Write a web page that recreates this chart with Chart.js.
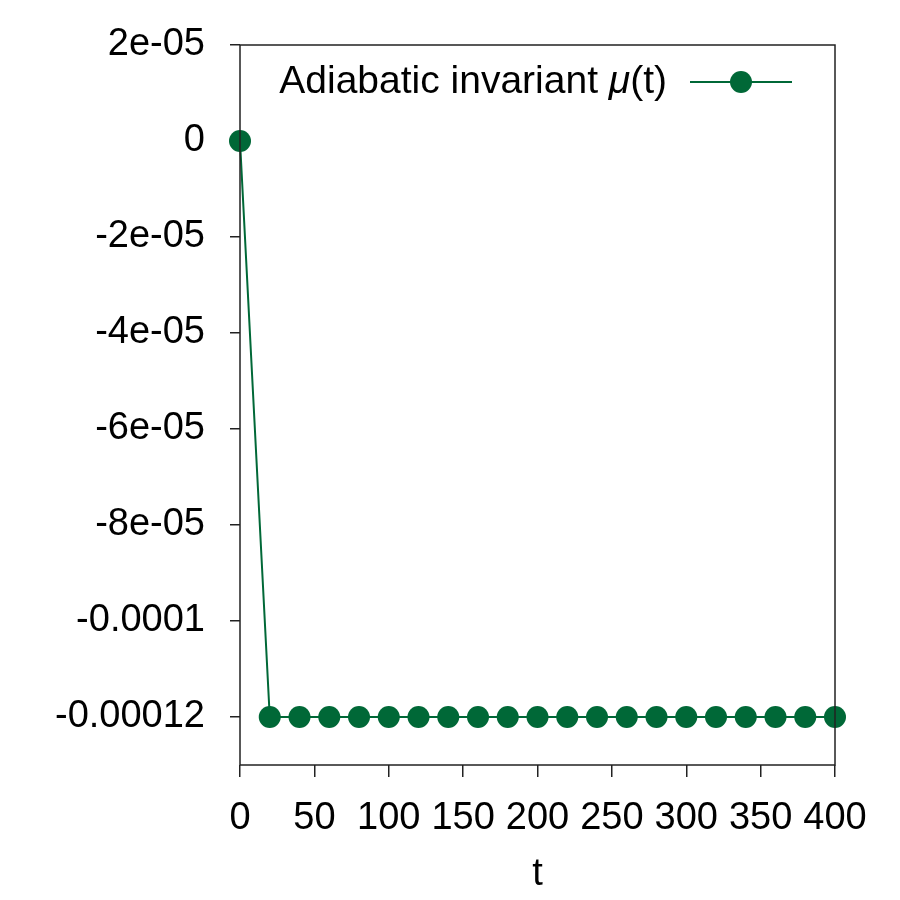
<!DOCTYPE html>
<html>
<head>
<meta charset="utf-8">
<script src="https://cdn.jsdelivr.net/npm/chart.js@4.4.1/dist/chart.umd.min.js"></script>
<style>
  html, body { margin: 0; padding: 0; background: #fff; }
  #wrap { width: 900px; height: 900px; }
</style>
</head>
<body>
<div id="wrap"><canvas id="chart" width="900" height="900"></canvas></div>
<script>
// data
const tValues = [0, 20, 40, 60, 80, 100, 120, 140, 160, 180, 200, 220, 240, 260, 280, 300, 320, 340, 360, 380, 400];
const muValues = [0, -0.00012, -0.00012, -0.00012, -0.00012, -0.00012, -0.00012, -0.00012, -0.00012, -0.00012, -0.00012,
                  -0.00012, -0.00012, -0.00012, -0.00012, -0.00012, -0.00012, -0.00012, -0.00012, -0.00012, -0.00012];

const xTickValues = [0, 50, 100, 150, 200, 250, 300, 350, 400];
const yTickValues = [-0.00012, -0.0001, -8e-05, -6e-05, -4e-05, -2e-05, 0, 2e-05];
const yTickLabels = ["-0.00012", "-0.0001", "-8e-05", "-6e-05", "-4e-05", "-2e-05", "0", "2e-05"];

const green = "#006837";
const axisColor = "#222";
const fontFamily = "'Liberation Sans', Arial, Helvetica, sans-serif";
const fontSize = 38;

const points = tValues.map((t, i) => ({ x: t, y: muValues[i] }));

// frame round the plot area
const framePlugin = {
    id: 'frame',
    afterDraw(chart) {
        const a = chart.chartArea;
        const c = chart.ctx;
        c.save();
        c.strokeStyle = axisColor;
        c.lineWidth = 1.5;
        c.strokeRect(a.left, a.top, a.right - a.left, a.bottom - a.top);
        c.restore();
    }
};

// key in the top right corner, gnuplot style
const keyPlugin = {
    id: 'key',
    afterDraw(chart) {
        const c = chart.ctx;
        const y = 82;
        const textRight = 667;
        const size = 39;
        c.save();
        c.fillStyle = "#000";
        c.textBaseline = "middle";
        const normal = size + "px " + fontFamily;
        const italic = "italic " + size + "px " + fontFamily;
        const parts = [["Adiabatic invariant ", normal], ["\u03bc", italic], ["(t)", normal]];
        let total = 0;
        parts.forEach(p => { c.font = p[1]; total += c.measureText(p[0]).width; });
        let x = textRight - total;
        parts.forEach(p => {
            c.font = p[1];
            c.fillText(p[0], x, y);
            x += c.measureText(p[0]).width;
        });
        c.strokeStyle = green;
        c.lineWidth = 2;
        c.beginPath();
        c.moveTo(690, y);
        c.lineTo(792, y);
        c.stroke();
        c.fillStyle = green;
        c.beginPath();
        c.arc(741, y, 11, 0, Math.PI * 2);
        c.fill();
        c.restore();
    }
};

const ctx = document.getElementById('chart');

const chart = new Chart(ctx, {
    type: 'line',
    data: {
        datasets: [{
            label: 'Adiabatic invariant \u03bc(t)',
            data: points,
            borderColor: green,
            backgroundColor: green,
            borderWidth: 2,
            pointRadius: 11,
            pointBorderWidth: 0,
            pointBackgroundColor: green,
            tension: 0,
            clip: false
        }]
    },
    options: {
        responsive: false,
        animation: false,
        layout: { padding: { top: 45, right: 65, left: 0, bottom: 0 } },
        plugins: {
            legend: { display: false },
            tooltip: { enabled: false }
        },
        scales: {
            x: {
                type: 'linear',
                min: 0,
                max: 400,
                afterBuildTicks: s => { s.ticks = xTickValues.map(v => ({ value: v })); },
                afterFit: s => { s.height = 135; },
                ticks: {
                    color: "#000",
                    font: { family: fontFamily, size: fontSize },
                    padding: 19,
                    maxRotation: 0,
                    autoSkip: false
                },
                grid: {
                    drawOnChartArea: false,
                    drawTicks: true,
                    tickLength: 12,
                    color: axisColor,
                    lineWidth: 1.5
                },
                border: { display: false },
                title: {
                    display: true,
                    text: 't',
                    color: "#000",
                    font: { family: fontFamily, size: fontSize },
                    padding: { top: 0, bottom: 3 }
                }
            },
            y: {
                type: 'linear',
                min: -0.00013,
                max: 2e-05,
                afterBuildTicks: s => { s.ticks = yTickValues.map(v => ({ value: v })); },
                afterFit: s => {
                    s.width = 240;
                    s.paddingTop = 0;
                    s.paddingBottom = 0;
                },
                ticks: {
                    color: "#000",
                    font: { family: fontFamily, size: fontSize },
                    padding: 25,
                    autoSkip: false,
                    callback: (v, i) => yTickLabels[i]
                },
                grid: {
                    drawOnChartArea: false,
                    drawTicks: true,
                    tickLength: 10,
                    color: axisColor,
                    lineWidth: 1.5
                },
                border: { display: false }
            }
        }
    },
    plugins: [framePlugin, keyPlugin]
});
</script>
</body>
</html>
